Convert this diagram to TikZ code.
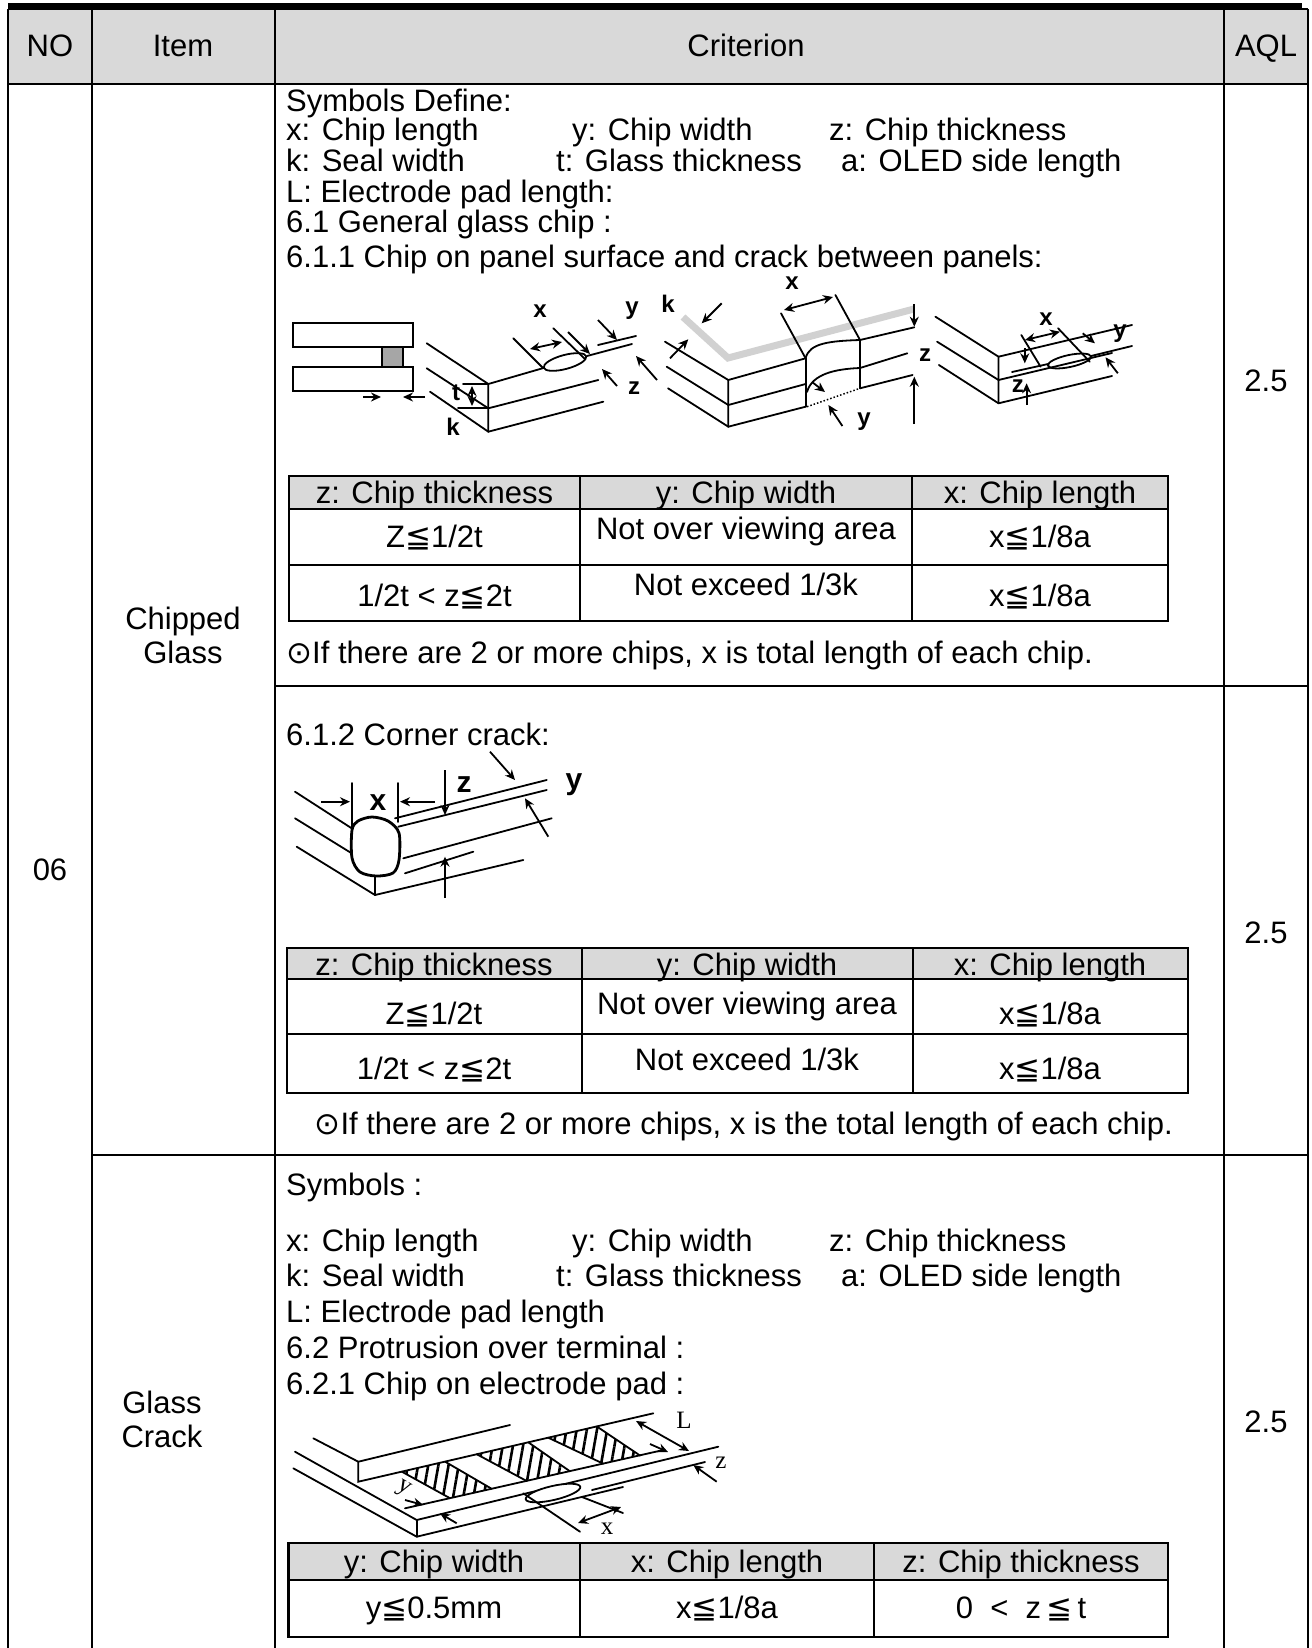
\documentclass[tikz,border=0pt]{standalone}
\usepackage{fontspec}
\setmainfont{Liberation Sans}
\newfontfamily\symfont{DejaVu Sans}
\newfontfamily\serifont{Liberation Serif}
\usetikzlibrary{arrows.meta,patterns.meta}
\newcommand{\myle}{{\symfont ≦}}
\newcommand{\mydot}{{\symfont ⊙}}
\tikzset{
 grid/.style={line width=2.5pt},
 tline/.style={line width=1.3pt},
 tout/.style={line width=2.2pt},
 fig/.style={line width=1.8pt, line cap=round},
 arr/.style={line width=1.8pt,-{Stealth[length=10pt,width=9pt]}},
 darr/.style={line width=1.8pt,{Stealth[length=10pt,width=9pt]}-{Stealth[length=10pt,width=9pt]}},
 lab/.style={font=\fontsize{24}{24}\selectfont\bfseries, inner sep=0pt},
 blab/.style={font=\fontsize{30}{30}\selectfont\bfseries, inner sep=0pt},
 slab/.style={font=\fontsize{25}{25}\selectfont\serifont, inner sep=0pt},
 txt/.style={anchor=base west, inner sep=0pt, font=\fontsize{31}{32}\selectfont},
 ctxt/.style={anchor=base, inner sep=0pt, font=\fontsize{31}{32}\selectfont},
 hdr/.style={fill=black!15},
}
\begin{document}
\begin{tikzpicture}[x=1pt,y=-1pt]
\useasboundingbox (0,0) rectangle (1311,1648);
% top bar
\fill (8,3) rectangle (1302,8.5);
% header
\fill[hdr] (8,9) rectangle (1308,84);
\node[ctxt] (hno) at (50,57) {NO};
\node[ctxt] (hitem) at (183,57) {Item};
\node[ctxt] (hcrit) at (746,57) {Criterion};
\node[ctxt] (haql) at (1266,57) {AQL};
% main grid
\draw[grid] (8,9) -- (1308,9);
\draw[grid] (8,84) -- (1308,84);
\draw[grid] (8,9) -- (8,1648);
\draw[grid] (92,9) -- (92,1648);
\draw[grid] (275,9) -- (275,1648);
\draw[grid] (1224,9) -- (1224,1648);
\draw[grid] (1308,9) -- (1308,1648);
\draw[grid] (275,686) -- (1308,686);
\draw[grid] (92,1155) -- (1308,1155);
% left column texts
\node[ctxt] (no) at (50,880) {06};
\node[ctxt] (chip1) at (183,629) {Chipped};
\node[ctxt] (chip2) at (183,663) {Glass};
\node[ctxt] (gc1) at (162,1413) {Glass};
\node[ctxt] (gc2) at (162,1447) {Crack};
\node[ctxt] (aql1) at (1266,391) {2.5};
\node[ctxt] (aql2) at (1266,943) {2.5};
\node[ctxt] (aql3) at (1266,1432) {2.5};
% ---------- section 1 text
\node[txt] (s1a) at (286,112) {Symbols Define:};
\node[txt] (s1b) at (286,141) {x: Chip length};
\node[txt] (s1c) at (572,141) {y: Chip width};
\node[txt] (s1d) at (829,141) {z: Chip thickness};
\node[txt] (s1e) at (286,172) {k: Seal width};
\node[txt] (s1f) at (556,172) {t: Glass thickness};
\node[txt] (s1g) at (841,172) {a: OLED side length};
\node[txt] (s1h) at (286,202) {L: Electrode pad length:};
\node[txt] (s1i) at (286,232) {6.1 General glass chip :};
\node[txt] (s1j) at (286,267) {6.1.1 Chip on panel surface and crack between panels:};
% ---------- figure 1
\draw[fig] (292.7,323.3) rectangle (413.3,346.7);
\draw[fig] (292.7,367.3) rectangle (413.3,390.7);
\draw[fig, fill=black!35] (381.7,346.7) rectangle (403.3,367.3);
\draw[arr] (363,397) -- (381,397);
\draw[arr] (425,397) -- (403,397);
% ---------- figure 2
\draw[fig] (426.7,343.3) -- (488.3,384) -- (488.3,431.7);
\draw[fig] (426.7,368.3) -- (488.3,408.3);
\draw[fig] (430,391.7) -- (488.3,431.7);
\draw[fig] (488.3,384) -- (543.5,368);
\draw[fig, rotate around={15:(565,362)}] (565,362) ellipse [x radius=22, y radius=7];
\draw[fig] (587,356) -- (632,344);
\draw[fig] (488.3,408.3) -- (598.3,380);
\draw[fig] (488.3,431.7) -- (603.3,401.7);
\draw[fig] (463,384) -- (488,384);
\draw[fig] (458,408) -- (488,408);
\draw[darr] (472,386) -- (472,406);
\node[lab] (t2) at (456,393) {t};
\node[lab] (k2) at (453,427) {k};
\draw[fig] (513.3,338.3) -- (543.3,368.3);
\draw[fig] (553.3,328.3) -- (585,359);
\draw[darr] (530,349) -- (562,342);
\node[lab] (x2) at (540,311) {x};
\draw[fig] (598,345) -- (636,336);
\draw[arr] (568,332) -- (590,354);
\draw[arr] (598,320) -- (617,340);
\draw[arr] (657,380) -- (636,356);
\node[lab] (y2) at (632,311) {y};
\draw[arr] (617,386) -- (602,369);
\node[lab] (z2) at (634,388) {z};
% ---------- figure 3
\draw[line width=7pt, black!18] (683,317) -- (728,358) -- (914,309);
\draw[fig] (665,341.7) -- (728.3,380) -- (728.3,426.7);
\draw[fig] (666.7,366.7) -- (728.3,405);
\draw[fig] (668,388.3) -- (728.3,426.7);
\draw[fig] (728.3,380) -- (805.6,358.3);
\draw[fig] (860,340) -- (914.3,327.3);
\draw[fig] (728.3,405) -- (805.6,384);
\draw[fig] (860,368) -- (907.3,353.3);
\draw[fig] (728.3,426.7) -- (805.6,406.7);
\draw[fig] (860,388.3) -- (912.6,375);
\draw[fig] (805.6,358.3) -- (805.6,406.7);
\draw[fig] (860,340) -- (860,388.3);
\draw[fig] (805.6,358.3) .. controls (809,343) and (830,341) .. (860,340);
\draw[fig] (807,392) .. controls (812,374) and (835,369) .. (860,368);
\draw[line width=1.5pt, dotted] (807,406.7) -- (860,388.3);
\draw[arr] (812,382) -- (825,392);
\draw[fig] (805.6,358.3) -- (781,313.3);
\draw[fig] (860,340) -- (835.4,295);
\draw[darr] (784,310) -- (833,297);
\node[lab] (x3) at (792,283) {x};
\node[lab] (k3) at (668,304) {k};
\draw[arr] (721.7,303.3) -- (701.7,323.3);
\draw[arr] (670,358.3) -- (688.3,339.3);
\draw[arr] (914.3,304) -- (914.3,326.7);
\draw[arr] (914.3,424) -- (914.3,376.7);
\node[lab, anchor=west] (z3) at (919,355) {z};
\node[lab] (y3) at (864,422) {y};
\draw[arr] (842.4,426) -- (828.4,405);
% ---------- figure 4
\draw[fig] (935.4,316.7) -- (998.5,356.7) -- (998.5,403.3);
\draw[fig] (937.1,341.7) -- (998.5,380);
\draw[fig] (938.9,365) -- (998.5,403.3);
\draw[fig] (998.5,356.7) -- (1132,325);
\draw[fig] (1012,372) -- (1048,364);
\draw[fig, fill=white, rotate around={12:(1069.5,361)}] (1069.5,361) ellipse [x radius=22, y radius=6];
\draw[fig] (1091,356) -- (1132,346);
\draw[fig] (998.5,380) -- (1112,353);
\draw[fig] (998.5,403.3) -- (1112,376);
\draw[fig] (1021.3,335) -- (1040.6,366.7);
\draw[fig] (1058.1,328.3) -- (1089.7,361.7);
\draw[darr] (1025,340) -- (1060,331.7);
\node[lab] (x4) at (1046,319) {x};
\node[lab] (y4) at (1120,334) {y};
\draw[arr] (1082.7,333.3) -- (1095,343.3);
\draw[arr] (1117.8,373.3) -- (1105.5,357.3);
\node[lab] (z4) at (1017.8,386) {z};
\draw[arr] (1024.8,348.3) -- (1024.8,363.3);
\draw[arr] (1026.6,405) -- (1026.6,383.3);
% ---------- table 1
\fill[hdr] (289,476) rectangle (1168,509);
\draw[tline] (289,509) -- (1168,509);
\draw[tline] (289,565) -- (1168,565);
\draw[tline] (580,476) -- (580,621);
\draw[tline] (912,476) -- (912,621);
\draw[tout] (289,476) rectangle (1168,621);
\node[ctxt] (t1h1) at (434.5,503) {z: Chip thickness};
\node[ctxt] (t1h2) at (746,503) {y: Chip width};
\node[ctxt] (t1h3) at (1040,503) {x: Chip length};
\node[ctxt] (t1a1) at (434.5,547) {Z\myle{}1/2t};
\node[ctxt] (t1a2) at (746,539) {Not over viewing area};
\node[ctxt] (t1a3) at (1040,547) {x\myle{}1/8a};
\node[ctxt] (t1b1) at (434.5,606) {1/2t < z\myle{}2t};
\node[ctxt] (t1b2) at (746,595) {Not exceed 1/3k};
\node[ctxt] (t1b3) at (1040,606) {x\myle{}1/8a};
\node[txt] (n1) at (286,663) {\mydot{}If there are 2 or more chips, x is total length of each chip.};
% ---------- section 2
\node[txt] (s2a) at (286,745) {6.1.2 Corner crack:};
\draw[fig] (295,791.7) -- (351.7,828.3);
\draw[fig] (295,818.3) -- (351.7,853.3);
\draw[fig] (296.7,846.7) -- (375,895);
\draw[fig] (351.7,783) -- (351.7,828);
\draw[fig] (398.3,783) -- (398.3,822);
\draw[arr] (321,801.7) -- (350,801.7);
\draw[arr] (435,801.7) -- (400,801.7);
\node[blab] (x5) at (378,803) {x};
\draw[line width=2.8pt] plot[smooth cycle] coordinates {(352,830) (358,821) (372,817) (388,821) (399,833) (399,860) (393,873) (376,876) (360,872) (352,858)};
\draw[fig] (375,876) -- (375,895);
\draw[fig] (375,895) -- (523.3,860);
\draw[fig] (395,818.3) -- (546.7,780);
\draw[fig] (398.3,826.7) -- (546.7,790);
\draw[fig] (403.3,858.3) -- (551.7,818.3);
\draw[fig] (405,873.3) -- (473.3,851.7);
\draw[arr] (445,770) -- (445,815);
\node[blab] (z5) at (464,785) {z};
\draw[arr] (445,898) -- (445,856.7);
\node[blab] (y5) at (574,785) {y};
\draw[arr] (490,751.7) -- (515,780);
\draw[arr] (548.3,836.7) -- (525,798.3);
% ---------- table 2
\fill[hdr] (287,948) rectangle (1188,979);
\draw[tline] (287,979) -- (1188,979);
\draw[tline] (287,1034) -- (1188,1034);
\draw[tline] (582,948) -- (582,1093);
\draw[tline] (913,948) -- (913,1093);
\draw[tout] (287,948) rectangle (1188,1093);
\node[ctxt] (t2h1) at (434,975) {z: Chip thickness};
\node[ctxt] (t2h2) at (747,975) {y: Chip width};
\node[ctxt] (t2h3) at (1050,975) {x: Chip length};
\node[ctxt] (t2a1) at (434,1024) {Z\myle{}1/2t};
\node[ctxt] (t2a2) at (747,1014) {Not over viewing area};
\node[ctxt] (t2a3) at (1050,1024) {x\myle{}1/8a};
\node[ctxt] (t2b1) at (434,1079) {1/2t < z\myle{}2t};
\node[ctxt] (t2b2) at (747,1070) {Not exceed 1/3k};
\node[ctxt] (t2b3) at (1050,1079) {x\myle{}1/8a};
\node[txt, anchor=base east] (n2) at (1173,1134) {\mydot{}If there are 2 or more chips, x is the total length of each chip.};
% ---------- section 3
\node[txt] (s3a) at (286,1195) {Symbols :};
\node[txt] (s3b) at (286,1251) {x: Chip length};
\node[txt] (s3c) at (572,1251) {y: Chip width};
\node[txt] (s3d) at (829,1251) {z: Chip thickness};
\node[txt] (s3e) at (286,1286) {k: Seal width};
\node[txt] (s3f) at (556,1286) {t: Glass thickness};
\node[txt] (s3g) at (841,1286) {a: OLED side length};
\node[txt] (s3h) at (286,1322) {L: Electrode pad length};
\node[txt] (s3i) at (286,1358) {6.2 Protrusion over terminal :};
\node[txt] (s3j) at (286,1394) {6.2.1 Chip on electrode pad :};
% figure 5
\begin{scope}
\clip (401.7,1471.6) -- (445,1461.6) -- (491.7,1488.8) -- (450,1498.2) -- cycle;
\fill[pattern={Lines[angle=80,distance=10pt,line width=2.6pt]}] (380,1440) rectangle (520,1520);
\end{scope}
\begin{scope}
\clip (476.7,1454.2) -- (528.3,1442.3) -- (570,1471.3) -- (526.7,1481) -- cycle;
\fill[pattern={Lines[angle=80,distance=10pt,line width=2.6pt]}] (460,1430) rectangle (590,1500);
\end{scope}
\begin{scope}
\clip (548.3,1437.7) -- (596.7,1426.4) -- (640,1455.5) -- (603.3,1463.7) -- cycle;
\fill[pattern={Lines[angle=80,distance=10pt,line width=2.6pt]}] (530,1410) rectangle (660,1480);
\end{scope}
\draw[fig] (401.7,1471.6) -- (450,1498.2) (445,1461.6) -- (491.7,1488.8);
\draw[fig] (476.7,1454.2) -- (526.7,1481) (528.3,1442.3) -- (570,1471.3);
\draw[fig] (548.3,1437.7) -- (603.3,1463.7) (596.7,1426.4) -- (640,1455.5);
\draw[fig] (313.3,1438.3) -- (358.3,1461.7) -- (510,1425);
\draw[fig] (358.3,1461.7) -- (358.3,1481.7) -- (653.3,1413.3);
\draw[fig] (295,1451.7) -- (416.7,1520) -- (718.3,1446.7);
\draw[fig] (293.3,1468.3) -- (416.7,1536.7) -- (623,1487);
\draw[fig] (416.7,1520) -- (416.7,1536.7);
\draw[fig] (405,1508.3) -- (663.3,1450);
\draw[fig] (592,1490) -- (705,1462);
\draw[fig, fill=white, rotate around={13:(553,1493)}] (553,1493) ellipse [x radius=28, y radius=7];
\draw[fig] (523.3,1493.3) -- (580,1531.7);
\draw[fig] (582,1497) -- (623,1513);
\draw[darr] (578,1523) -- (621,1507);
\node[slab] (x6) at (607,1529) {x};
\draw[darr] (636,1421) -- (689,1451);
\draw[arr] (650,1444) -- (668,1452);
\node[slab] (l6) at (684,1420) {L};
\draw[arr] (716.7,1481.7) -- (693.3,1465);
\node[slab] (z6) at (721,1463) {z};
\draw[arr] (405,1500) -- (423.3,1505);
\draw[arr] (456.7,1523.3) -- (440,1513.3);
\node[slab, rotate=-30] (y6) at (403,1489) {y};
% ---------- table 3
\fill[hdr] (288.5,1543) rectangle (1168,1580);
\draw[tline] (288.5,1580) -- (1168,1580);
\draw[tline] (580,1543) -- (580,1637);
\draw[tline] (874,1543) -- (874,1637);
\draw[tout] (288.5,1543) rectangle (1168,1637);
\node[ctxt] (t3h1) at (434,1572) {y: Chip width};
\node[ctxt] (t3h2) at (727,1572) {x: Chip length};
\node[ctxt] (t3h3) at (1021,1572) {z: Chip thickness};
\node[ctxt] (t3a1) at (434,1618) {y\myle{}0.5mm};
\node[ctxt] (t3a2) at (727,1618) {x\myle{}1/8a};
\node[ctxt] (t3a3) at (1021,1618) {0\ \ <\ \ z\,\myle\,t};
\end{tikzpicture}
\end{document}
